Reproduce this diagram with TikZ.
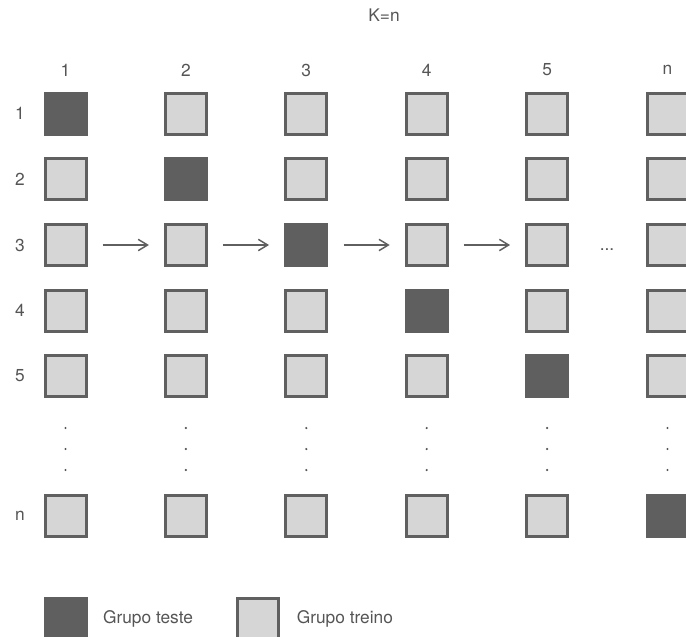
\documentclass[tikz,border=0pt]{standalone}
\usepackage{fontspec}
\setmainfont{TeX Gyre Heros}
\usepackage{xcolor}
\usepackage{tikz}
\usetikzlibrary{arrows.meta,positioning}

\definecolor{testgray}{RGB}{95,95,95}
\definecolor{traingray}{RGB}{214,214,214}
\definecolor{edgegray}{RGB}{96,96,96}
\definecolor{textgray}{RGB}{85,85,85}

\tikzset{
  trainbox/.style={draw=edgegray, line width=2.25pt, fill=traingray, minimum size=30.75pt, inner sep=0pt},
  testbox/.style={fill=testgray, minimum size=33pt, inner sep=0pt},
  lbl/.style={text=textgray, font=\fontsize{13}{15}\selectfont, inner sep=0.75pt},
  nextarrow/.style={draw=edgegray, line width=1.1pt, -{Straight Barb[length=7pt,width=8.5pt]}, shorten <=11.25pt, shorten >=11.25pt},
}

\begin{document}
\begin{tikzpicture}[x=0.75pt,y=0.75pt,yscale=-1,xscale=1]
					\useasboundingbox (0,0) rectangle (686,636);
					\clip (0,0) rectangle (686,636);
					
					% Text Node
					\node [lbl] (title) at (384,15) {K=n};
					
					%Column and row headers
					\foreach \c/\x/\t in {1/65.5/1,2/185.9/2,3/306.3/3,4/426.7/4,5/547.1/5,6/667.5/n}
						\node [lbl] (col\c) at (\x,70) {\t};
					\foreach \r/\y/\t in {1/113.5/1,2/179/2,3/245/3,4/310.5/4,5/376/5,6/516/n}
						\node [lbl] (row\r) at (20,\y) {\t};
					
					%Shape: Squares (test group on the diagonal)
					\foreach \c/\x in {1/65.5,2/185.9,3/306.3,4/426.7,5/547.1,6/667.5}
						\foreach \r/\y in {1/113.5,2/179,3/245,4/310.5,5/376,6/516}
							{\ifnum\r=\c \node [testbox] (b\r\c) at (\x,\y) {};
							 \else \node [trainbox] (b\r\c) at (\x,\y) {};\fi}
					
					%Straight Lines: arrows along row 3
					\foreach \a/\b in {1/2,2/3,3/4,4/5}
						\draw [nextarrow] (b3\a.east) -- (b3\b.west);
					% Text Node
					\node [lbl, anchor=base] (hdots) at (607,250) {...};
					
					%Vertical dots
					\foreach \x in {65.5,185.9,306.3,426.7,547.1,667.5}
						\foreach \y in {428,449,470}
							\fill [textgray] (\x,\y) circle [radius=0.9pt];
					
					%Legend
					\node [testbox] (legtest) at (65.5,618.5) {};
					\node [lbl, right=10.5pt of legtest] (legtesttext) {Grupo teste};
					\node [trainbox] (legtrain) at (257.5,618.5) {};
					\node [lbl, right=12pt of legtrain] (legtraintext) {Grupo treino};
					
				\end{tikzpicture}
\end{document}
